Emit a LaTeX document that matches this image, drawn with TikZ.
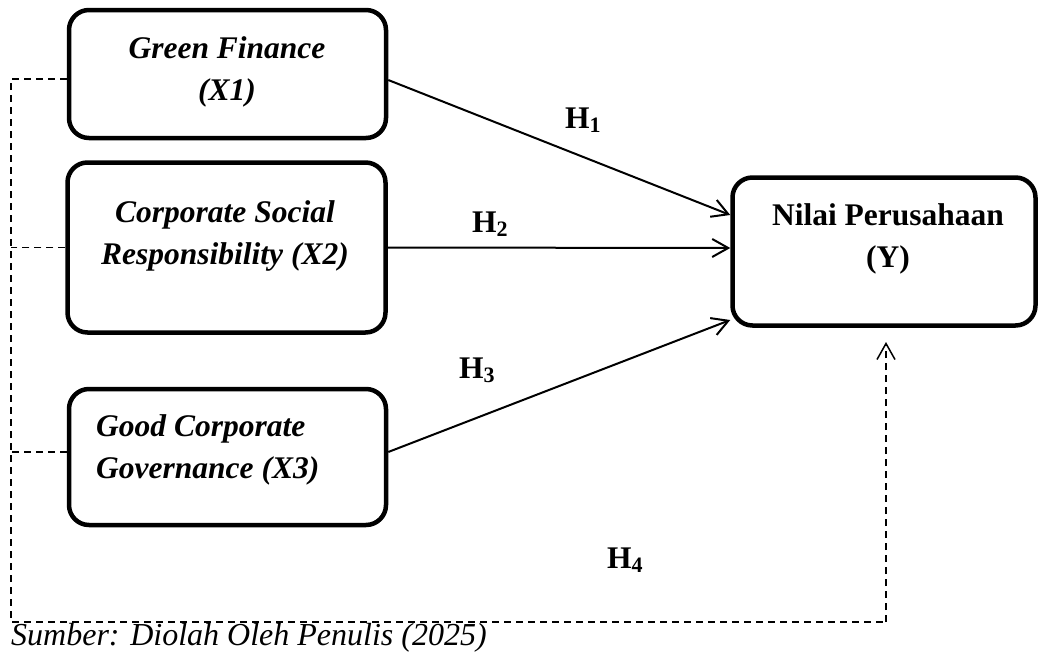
\documentclass[tikz,border=0pt]{standalone}
\usepackage{fontspec}
\setmainfont{Liberation Serif}
\usetikzlibrary{arrows.meta}
\tikzset{
  varbox/.style={draw, line width=4.5pt, rounded corners=20pt, inner sep=0pt},
  vartext/.style={font=\fontsize{31.5}{42}\selectfont\bfseries\itshape, inner sep=0pt},
  ytext/.style={font=\fontsize{31.5}{42}\selectfont\bfseries, inner sep=0pt},
  hlabel/.style={font=\fontsize{31.5}{42}\selectfont\bfseries, inner sep=0pt, anchor=base west},
  arr/.style={line width=2pt, -{Straight Barb[length=16pt,width=18pt]}},
  dsh/.style={line width=1.5pt, dash pattern=on 7pt off 5pt},
}
\newcommand{\hsub}[1]{\raisebox{-4pt}{\fontsize{22}{22}\selectfont #1}}
\begin{document}
\begin{tikzpicture}[x=1pt,y=-1pt]
\useasboundingbox (0,0) rectangle (1039,651);
% boxes
\node[varbox, minimum width=317pt, minimum height=128pt] (X1) at (227.5,74) {};
\node[varbox, minimum width=318pt, minimum height=170pt] (X2) at (226.5,247.5) {};
\node[varbox, minimum width=317pt, minimum height=136pt] (X3) at (227.5,457) {};
\node[varbox, minimum width=303pt, minimum height=148pt] (Y) at (884,251.5) {};
% texts
\node[vartext, align=center] (t1) at (227,70.6) {\strut Green Finance\\\strut (X1)};
\node[vartext, align=center] (t2) at (225,235) {\strut Corporate Social\\\strut Responsibility (X2)};
\node[vartext, align=left, anchor=west] (t3) at (96,449) {\strut Good Corporate\\\strut Governance (X3)};
\node[ytext, align=center] (ty) at (888,238) {\strut Nilai Perusahaan\\\strut (Y)};
% hypothesis labels
\node[hlabel] (h1) at (565,128) {H\hsub{1}};
\node[hlabel] (h2) at (472,232) {H\hsub{2}};
\node[hlabel] (h3) at (459,378) {H\hsub{3}};
\node[hlabel] (h4) at (607,568) {H\hsub{4}};
% arrows
\draw[arr] ([yshift=-6pt]X1.east) -- ([yshift=36.5pt]Y.west);
\draw[arr] (X2.east) -- ([yshift=3.5pt]Y.west);
\draw[arr] ([yshift=5pt]X3.east) -- ([yshift=-68.5pt]Y.west);
% dashed simultaneous path
\coordinate (c1) at (11,79);
\coordinate (c2) at (11,247.5);
\coordinate (c3) at (11,452);
\coordinate (c4) at (11,622);
\coordinate (c5) at (886,622);
\coordinate (c6) at (886,342);
\draw[dsh] ([yshift=-5pt]X1.west) -- (c1) -- (c4) -- (c5);
\draw[dsh] (X2.west) -- (c2);
\draw[dsh] ([yshift=5pt]X3.west) -- (c3);
\draw[dsh, -{Straight Barb[length=16pt,width=18pt]}] (c5) -- (c6);
% source
\node[font=\fontsize{32}{38}\selectfont\itshape, inner sep=0pt, anchor=base west] (src) at (11,645) {Sumber: Diolah Oleh Penulis (2025)};
\end{tikzpicture}
\end{document}
